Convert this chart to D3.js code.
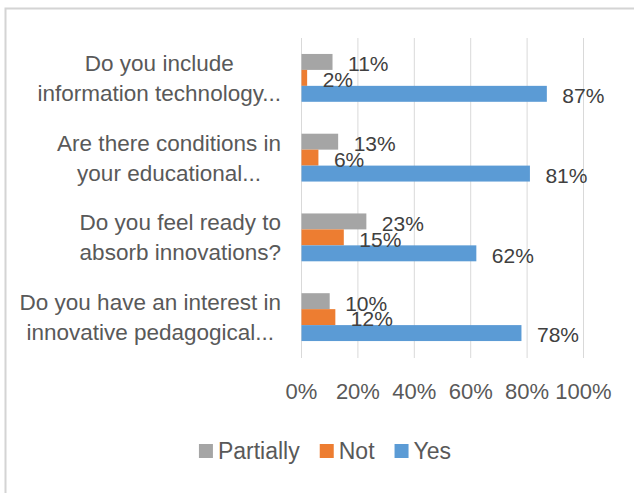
<!DOCTYPE html>
<html>
<head>
<meta charset="utf-8">
<script src="https://cdn.jsdelivr.net/npm/d3@7"></script>
<style>
  html, body { margin: 0; padding: 0; background: #fff; }
  svg { display: block; }
  text { font-family: "Liberation Sans", Arial, sans-serif; }
</style>
</head>
<body>
<svg id="chart" width="634" height="493"></svg>
<script>
// ---- data ----
const categories = [
  ["Do you include", "information technology..."],
  ["Are there conditions in", "your educational..."],
  ["Do you feel ready to", "absorb innovations?"],
  ["Do you have an interest in", "innovative pedagogical..."]
];
const seriesNames = ["Partially", "Not", "Yes"];
const partially = [11, 13, 23, 10];
const notValues = [2, 6, 15, 12];
const yesValues = [87, 81, 62, 78];
const tickValues = [0, 20, 40, 60, 80, 100];
const colors = ["#A5A5A5", "#ED7D31", "#5B9BD5"];

const seriesValues = [partially, notValues, yesValues];
const catKeys = categories.map(c => c.join(" "));

const svg = d3.select("#chart");

// frame
svg.append("rect")
  .attr("x", 5.5).attr("y", 8.5)
  .attr("width", 800).attr("height", 800)
  .attr("fill", "none").attr("stroke", "#d4d4d4").attr("stroke-width", 2);

const x = d3.scaleLinear().domain([0, 100]).range([301, 583]);
const y = d3.scaleBand().domain(catKeys).range([38, 357]).paddingInner(0.4).paddingOuter(0.2);
const ySub = d3.scaleBand().domain(seriesNames).range([0, y.bandwidth()]);

// gridlines
svg.append("g").selectAll("line").data(tickValues).join("line")
  .attr("x1", d => x(d) + 0.5).attr("x2", d => x(d) + 0.5)
  .attr("y1", 38).attr("y2", 358)
  .attr("stroke", "#d9d9d9").attr("stroke-width", 1);

// x axis labels
const xAxis = d3.axisBottom(x).tickValues(tickValues).tickFormat(d => d + "%").tickSize(0).tickPadding(0);
const gx = svg.append("g").attr("transform", "translate(0,383)").call(xAxis);
gx.select(".domain").remove();
gx.selectAll("text").attr("font-size", 22).attr("fill", "#595959")
  .attr("font-family", '"Liberation Sans", Arial, sans-serif').attr("dy", "0.71em");

// bars
const rows = [];
catKeys.forEach((k, i) => {
  seriesNames.forEach((s, j) => rows.push({ cat: k, series: s, value: seriesValues[j][i], color: colors[j] }));
});
svg.append("g").selectAll("rect").data(rows).join("rect")
  .attr("x", x(0) + 0.5)
  .attr("y", d => y(d.cat) + ySub(d.series))
  .attr("width", d => x(d.value) - x(0))
  .attr("height", ySub.bandwidth())
  .attr("fill", d => d.color);

// data labels
svg.append("g").selectAll("text").data(rows).join("text")
  .attr("x", d => x(d.value) + 16)
  .attr("y", d => y(d.cat) + ySub(d.series) + ySub.bandwidth() / 2 + 2)
  .attr("dy", "0.35em")
  .attr("font-size", 21)
  .attr("fill", "#404040")
  .text(d => d.value + "%");

// category labels
const catG = svg.append("g");
categories.forEach((lines, i) => {
  const cy = y(catKeys[i]) + y.bandwidth() / 2;
  const g = catG.append("g");
  const texts = lines.map((ln, li) => g.append("text")
    .attr("font-size", 22.5).attr("fill", "#595959")
    .attr("text-anchor", "middle")
    .attr("y", cy + (li - (lines.length - 1) / 2) * 30)
    .attr("dy", "0.35em")
    .text(ln));
  const maxW = d3.max(texts, t => t.node().getComputedTextLength());
  const cx = 281 - maxW / 2;
  texts.forEach(t => t.attr("x", cx));
});

// legend
const legend = svg.append("g");
let lx = 0;
seriesNames.forEach((s, j) => {
  const g = legend.append("g");
  g.append("rect").attr("width", 14).attr("height", 14).attr("y", -7).attr("fill", colors[j]);
  const t = g.append("text").attr("x", 19).attr("dy", "0.35em")
    .attr("font-size", 23).attr("fill", "#595959").text(s);
  const w = 19 + t.node().getComputedTextLength();
  g.attr("transform", `translate(${lx},0)`);
  lx += w + 20;
});
const totalW = lx - 20;
legend.attr("transform", `translate(${325 - totalW / 2},451)`);
</script>
</body>
</html>
